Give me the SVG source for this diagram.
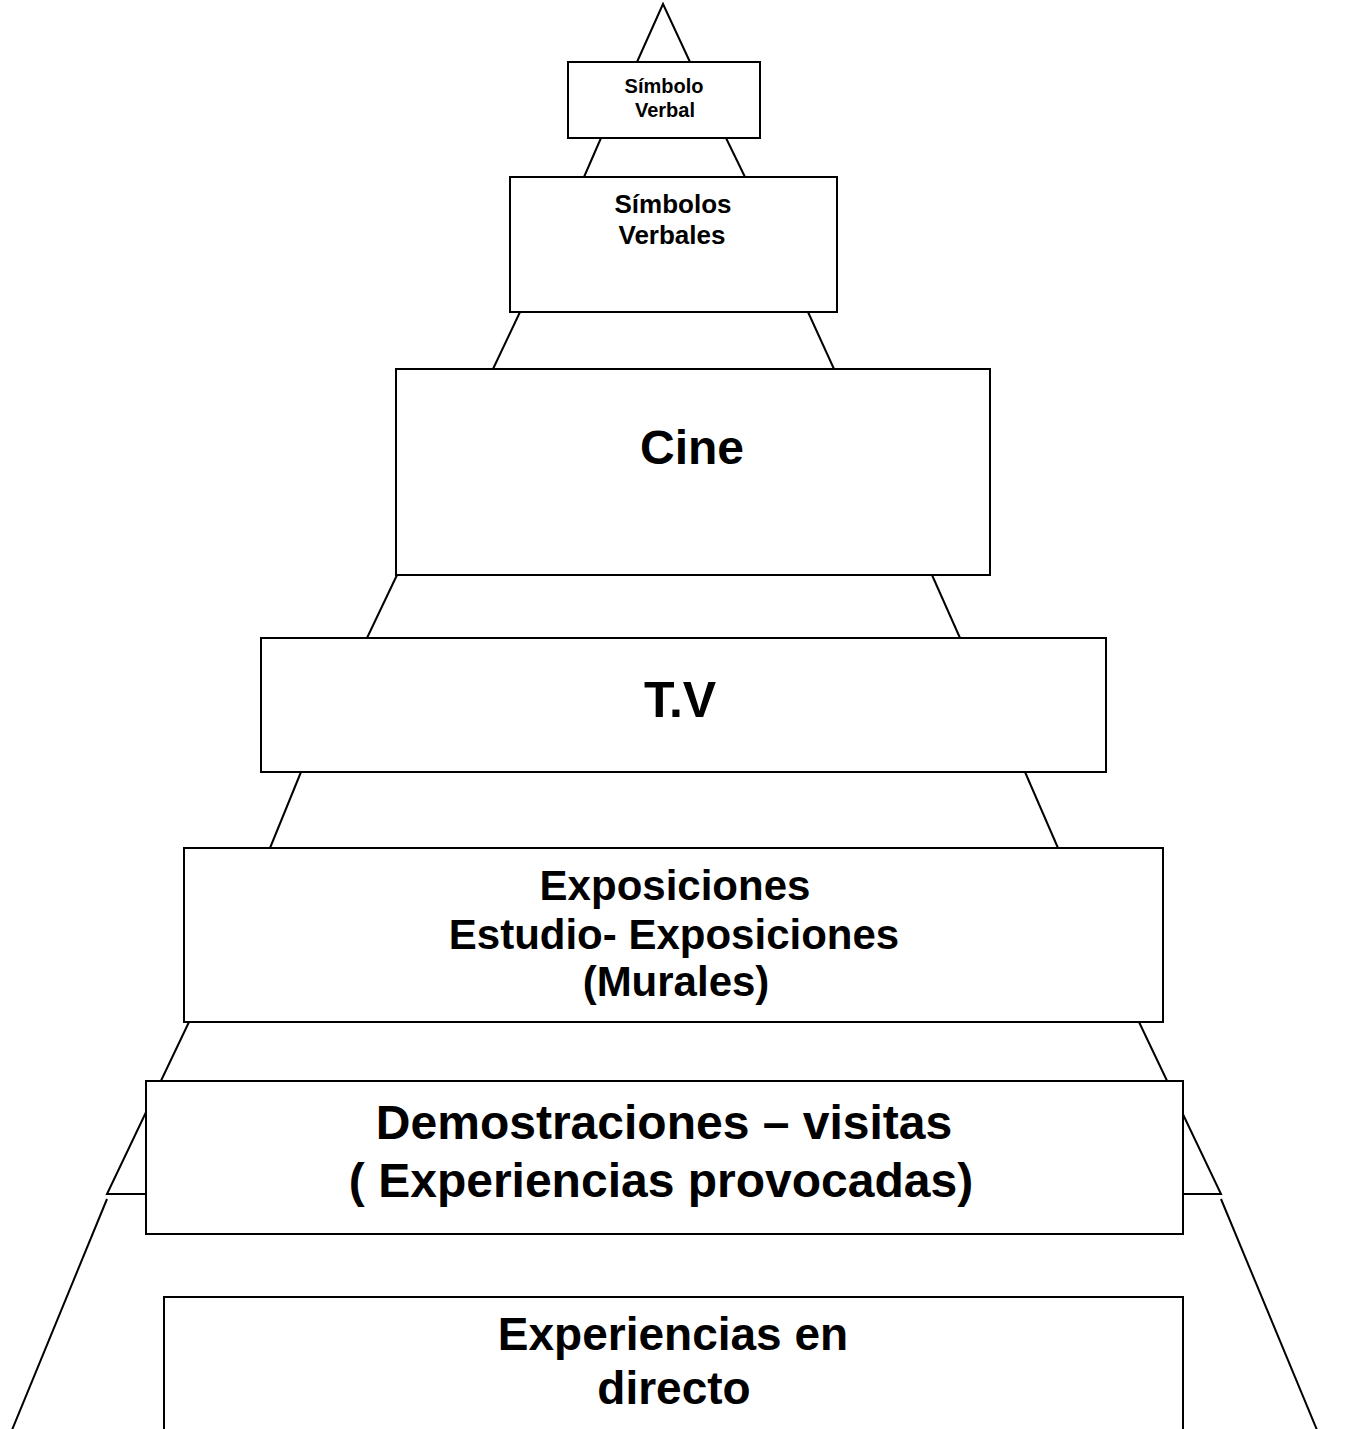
<svg xmlns="http://www.w3.org/2000/svg" width="1346" height="1429" viewBox="0 0 1346 1429">
<style>
.box{fill:#fff;stroke:#000;stroke-width:2}
.ln{stroke:#000;stroke-width:2;fill:none}
text{font-family:"Liberation Sans",Arial,sans-serif;font-weight:bold;fill:#000;text-anchor:middle}
</style>
<rect width="1346" height="1429" fill="#fff"/>
<g id="connectors">
<polyline class="ln" points="637,62 663,4 690,62"/>
<line class="ln" x1="601" y1="138" x2="584" y2="177"/>
<line class="ln" x1="726" y1="138" x2="745" y2="177"/>
<line class="ln" x1="520" y1="312" x2="493" y2="369"/>
<line class="ln" x1="808" y1="312" x2="834" y2="369"/>
<line class="ln" x1="397" y1="575" x2="367" y2="638"/>
<line class="ln" x1="932" y1="575" x2="960" y2="638"/>
<line class="ln" x1="301" y1="772" x2="270" y2="848"/>
<line class="ln" x1="1025" y1="772" x2="1058" y2="848"/>
<polyline class="ln" points="189,1022 107,1194 146,1194"/>
<polyline class="ln" points="1139,1022 1221,1194 1183,1194"/>
<line class="ln" x1="107" y1="1199" x2="12" y2="1430"/>
<line class="ln" x1="1221" y1="1199" x2="1317" y2="1430"/>
</g>
<g id="n1"><rect class="box" x="568" y="62" width="192" height="76"/>
<text x="664" y="93" font-size="20">Símbolo</text><text x="665" y="117" font-size="20">Verbal</text></g>
<g id="n2"><rect class="box" x="510" y="177" width="327" height="135"/>
<text x="673" y="213" font-size="26">Símbolos</text><text x="672" y="244" font-size="26">Verbales</text></g>
<g id="n3"><rect class="box" x="396" y="369" width="594" height="206"/>
<text x="692" y="464" font-size="48">Cine</text></g>
<g id="n4"><rect class="box" x="261" y="638" width="845" height="134"/>
<text x="680" y="717" font-size="50">T.V</text></g>
<g id="n5"><rect class="box" x="184" y="848" width="979" height="174"/>
<text x="675" y="900" font-size="42">Exposiciones</text>
<text x="674" y="949" font-size="42">Estudio- Exposiciones</text>
<text x="676" y="996" font-size="42">(Murales)</text></g>
<g id="n6"><rect class="box" x="146" y="1081" width="1037" height="153"/>
<text x="664" y="1139" font-size="48">Demostraciones – visitas</text>
<text x="661" y="1197" font-size="48">( Experiencias provocadas)</text></g>
<g id="n7"><rect class="box" x="164" y="1297" width="1019" height="150"/>
<text x="673" y="1350" font-size="46">Experiencias en</text>
<text x="674" y="1404" font-size="46">directo</text></g>
</svg>
